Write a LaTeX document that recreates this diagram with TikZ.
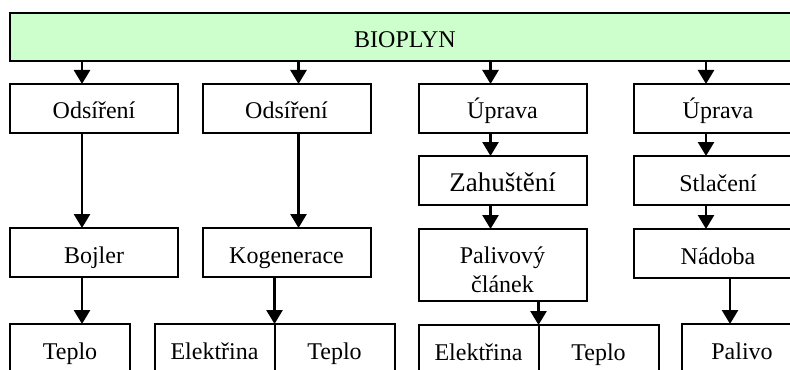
\documentclass[tikz,border=0pt]{standalone}
\usepackage{fontspec}
\setmainfont{Liberation Serif}
\usetikzlibrary{positioning, arrows.meta}
\definecolor{biogreen}{RGB}{204,255,204}
\tikzset{
frame/.style={draw, line width=1pt, inner sep=0pt, outer sep=0pt, minimum width=84pt, minimum height=24.5pt}, % plain rectangle of the scheme
stage/.style={frame, text height=11pt, text depth=0.5pt}, % one line step
product/.style={stage, minimum width=60pt}, % what comes out at the bottom
arr/.style={-{Triangle[width=8pt,length=7pt]}, line width=1.3pt}, % thick arrows with big heads
}
\begin{document}
\begin{tikzpicture}[x=0.5pt, y=-0.5pt, font=\fontsize{12}{14.3}\selectfont]
    \clip (0,0) rectangle (790,369);
    \node[stage, fill=biogreen, minimum width=395pt, minimum height=24pt] (bio) at (405,36.7) {BIOPLYN};
    \node[stage] (ods1) at (94,108.5) {Odsíření};
    \node[stage] (ods2) at (286.5,108.5) {Odsíření};
    \node[stage] (upr1) at (502.5,108.5) {Úprava};
    \node[stage] (upr2) at (718,108.5) {Úprava};
    \node[stage, below=47.5pt of ods1] (boj) {Bojler};
    \node[stage, below=47.5pt of ods2] (kog) {Kogenerace};
    \node[stage, below=11.5pt of upr1, font=\fontsize{13.5}{16}\selectfont, text depth=0pt] (zah) {Zahuštění};
    \node[frame, below=12pt of zah, minimum height=36pt, align=center] (pal) {\rule{0pt}{13pt}Palivový\\článek};
    \node[stage, below=11.5pt of upr2] (stl) {Stlačení};
    \node[stage, below=12pt of stl] (nad) {Nádoba};
    \node[product, below=23.5pt of boj, xshift=-12pt] (tep1) {Teplo};
    \coordinate (s2) at ([xshift=-6pt, yshift=-23.5pt]kog.south);
    \node[product, anchor=north east] (el1) at (s2) {Elektřina};
    \node[product, anchor=north west] (tep2) at (s2) {Teplo};
    \coordinate (s3) at ([xshift=18pt, yshift=-12pt]pal.south);
    \node[product, anchor=north east] (el2) at (s3) {Elektřina};
    \node[product, anchor=north west] (tep3) at (s3) {Teplo};
    \node[product, below=23pt of nad, xshift=12pt] (pal2) {Palivo};
    \path[every edge/.append style=arr]
    ([xshift=-6pt]ods1.north |- bio.south) edge ([xshift=-6pt]ods1.north)
    ([xshift=6pt]ods2.north |- bio.south) edge ([xshift=6pt]ods2.north)
    ([xshift=-6pt]upr1.north |- bio.south) edge ([xshift=-6pt]upr1.north)
    ([xshift=-6pt]upr2.north |- bio.south) edge ([xshift=-6pt]upr2.north)
    ([xshift=-6pt]ods1.south) edge ([xshift=-6pt]boj.north)
    ([xshift=6pt]ods2.south) edge ([xshift=6pt]kog.north)
    ([xshift=-6pt]upr1.south) edge ([xshift=-6pt]zah.north)
    ([xshift=-6pt]zah.south) edge ([xshift=-6pt]pal.north)
    ([xshift=-6pt]upr2.south) edge ([xshift=-6pt]stl.north)
    ([xshift=-6pt]stl.south) edge ([xshift=-6pt]nad.north)
    ([xshift=-6pt]boj.south) edge ([xshift=6pt]tep1.north)
    ([xshift=-6pt]kog.south) edge (s2)
    ([xshift=18pt]pal.south) edge (s3)
    ([xshift=6pt]nad.south) edge ([xshift=-6pt]pal2.north);
\end{tikzpicture}
\end{document}
